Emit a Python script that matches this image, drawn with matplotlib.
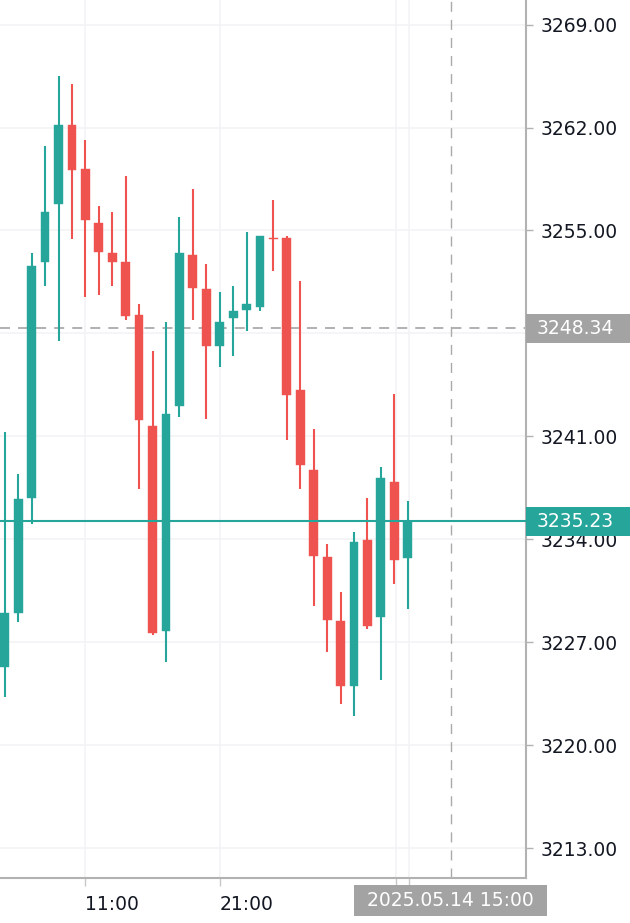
import numpy as np
import matplotlib
matplotlib.use("Agg")
import matplotlib.pyplot as plt
from matplotlib.patches import Rectangle
from matplotlib.transforms import blended_transform_factory

# hourly candles, index 6 = 11:00, index 16 = 21:00
opens = [3225.35, 3229.02, 3236.80, 3252.86, 3256.82, 3262.15, 3259.20, 3255.51,
         3253.47, 3252.86, 3249.27, 3241.74, 3227.78, 3243.08, 3253.35, 3251.04,
         3247.16, 3249.05, 3249.57, 3249.82, 3254.50, 3254.49, 3244.17, 3238.71,
         3232.81, 3228.48, 3224.05, 3233.97, 3228.75, 3237.91, 3232.72]
highs = [3241.33, 3238.44, 3253.47, 3260.72, 3265.48, 3264.97, 3261.13, 3256.69,
         3256.28, 3258.68, 3250.02, 3246.84, 3248.75, 3255.92, 3257.82, 3252.72,
         3250.79, 3251.20, 3254.87, 3254.65, 3257.05, 3254.65, 3251.54, 3241.50,
         3233.69, 3230.41, 3234.49, 3236.80, 3238.95, 3243.90, 3236.64]
lows = [3223.31, 3228.37, 3235.03, 3251.20, 3247.50, 3254.42, 3250.45, 3250.59,
        3251.20, 3248.93, 3237.44, 3227.50, 3225.69, 3242.29, 3248.93, 3242.18,
        3245.71, 3246.48, 3248.14, 3249.54, 3252.27, 3240.77, 3237.41, 3229.50,
        3226.33, 3222.79, 3221.99, 3227.89, 3224.44, 3230.95, 3229.27]
closes = [3228.98, 3236.76, 3252.56, 3256.28, 3262.15, 3259.14, 3255.69, 3253.51,
          3252.88, 3249.16, 3242.13, 3227.62, 3242.52, 3253.47, 3251.09, 3247.16,
          3248.75, 3249.50, 3250.02, 3254.65, 3254.40, 3243.83, 3239.07, 3232.88,
          3228.52, 3224.05, 3233.83, 3228.12, 3238.16, 3232.61, 3235.23]

y_ticks = [3213, 3220, 3227, 3234, 3241, 3248, 3255, 3262, 3269]
# 3248.00 sits fully under the crosshair price box
y_labels = ["3213.00", "3220.00", "3227.00", "3234.00", "3241.00", "",
            "3255.00", "3262.00", "3269.00"]
x_ticks = [6, 16, 29.1, 30.1]
x_labels = ["11:00", "21:00", "", ""]

last_price = 3235.23
cross_price = 3248.34
cross_x = 33.2
cross_label = "2025.05.14 15:00"

UP = "#26a69a"
DOWN = "#ef5350"
FRAME = "#b2b2b2"
GRID = "#f3f3f6"
TXT = "#131722"
FS = 13.5

plt.rcParams["lines.scale_dashes"] = False

fig = plt.figure(figsize=(6.3, 9.23), dpi=100)
ax = fig.add_axes([0, 1 - 878.3 / 923, 525.5 / 630, 878.3 / 923])

x = np.arange(len(opens))
o = np.array(opens)
c = np.array(closes)
colors = [UP if cc >= oo else DOWN for oo, cc in zip(o, c)]

ax.vlines(x, lows, highs, colors=colors, lw=1.5, zorder=3)
body = np.maximum(np.abs(c - o), 0.08)
ax.bar(x, body, bottom=np.minimum(o, c), width=0.65, color=colors,
       edgecolor=colors, lw=0.3, zorder=4)

ax.set_xlim(-0.36, 38.77)
ax.set_ylim(3210.96, 3270.67)

ax.set_yticks(y_ticks)
ax.set_yticklabels(y_labels)
ax.yaxis.tick_right()
ax.set_xticks(x_ticks)
ax.set_xticklabels(x_labels)
for lab in ax.get_xticklabels():
    lab.set_horizontalalignment("left")

ax.tick_params(axis="y", length=5, width=1, color=FRAME, labelsize=FS,
               labelcolor=TXT, pad=6)
ax.tick_params(axis="x", length=6, width=1, color="#c8c8cc", labelsize=FS,
               labelcolor=TXT, pad=6)
ax.grid(True, color=GRID, lw=1.2, zorder=0)
ax.set_axisbelow(True)

for side in ["left", "top"]:
    ax.spines[side].set_visible(False)
for side in ["right", "bottom"]:
    ax.spines[side].set_color(FRAME)
    ax.spines[side].set_linewidth(1.5)

# crosshair
ax.axhline(cross_price, color="#aaaaaa", lw=1.3, dashes=(7.2, 5.8), zorder=2)
ax.axvline(cross_x, color="#aaaaaa", lw=1.0, dashes=(7.2, 5.8), zorder=2)
# last price line
ax.axhline(last_price, color=UP, lw=1.5, zorder=5)

# price boxes on the right scale
tr = blended_transform_factory(fig.transFigure, ax.transData)
for price, col in [(cross_price, "#a3a3a3"), (last_price, UP)]:
    ax.add_patch(Rectangle((526 / 630, price - 1.0), 1 - 526 / 630, 2.0,
                           transform=tr, facecolor=col, edgecolor="none",
                           clip_on=False, zorder=10))
    ax.text(537 / 630, price, f"{price:.2f}", transform=tr, color="white",
            fontsize=FS, va="center", ha="left", clip_on=False, zorder=11)

# time box under crosshair
trx = blended_transform_factory(ax.transData, fig.transFigure)
ax.add_patch(Rectangle((cross_x - 7.2, 1 - 916 / 923), 14.4, 31 / 923,
                       transform=trx, facecolor="#a3a3a3", edgecolor="none",
                       clip_on=False, zorder=10))
ax.text(cross_x, 1 - 900.5 / 923, cross_label, transform=trx, color="white",
        fontsize=FS, va="center", ha="center", clip_on=False, zorder=11)

fig.savefig("out.png", dpi=100, facecolor="white")
